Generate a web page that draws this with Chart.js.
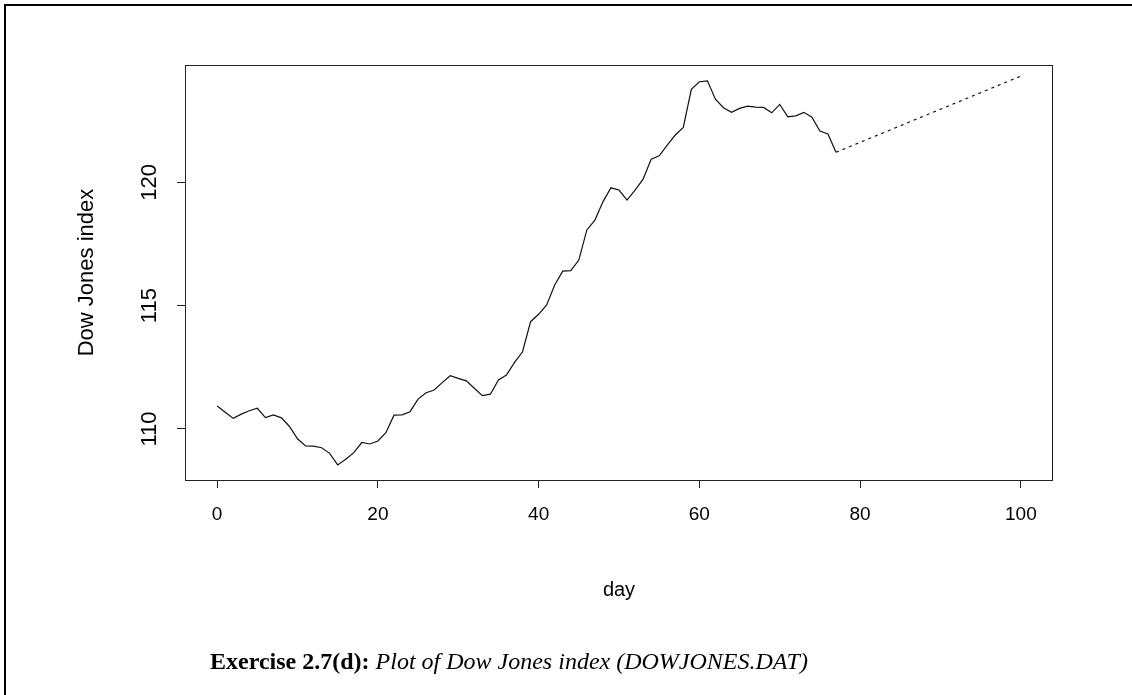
<!DOCTYPE html>
<html>
<head>
<meta charset="utf-8">
<script src="https://cdn.jsdelivr.net/npm/chart.js@4/dist/chart.umd.min.js"></script>
<style>
  body { margin: 0; background: #fff; }
  #wrap { position: relative; width: 1132px; height: 695px; overflow: hidden; }
  #frame { position: absolute; left: 4px; top: 4px; width: 1200px; height: 800px;
           border-top: 2px solid #000; border-left: 2px solid #000; }
  canvas { position: absolute; left: 0; top: 0; }
  #caption { position: absolute; left: 0; width: 1018px; top: 648px; text-align: center;
             font-family: "Liberation Serif", "DejaVu Serif", serif; font-size: 24px; color: #000; }
  #caption i { font-style: italic; }
</style>
</head>
<body>
<div id="wrap">
  <div id="frame"></div>
  <canvas id="dowChart" width="1132" height="695"></canvas>
  <div id="caption"><b>Exercise 2.7(d):</b> <i>Plot of Dow Jones index (DOWJONES.DAT)</i></div>
</div>
<script>
// daily index values, day 0 .. 77
let dowValues = [
    110.93, 110.68, 110.43, 110.60, 110.74, 110.84, 110.46, 110.57, 110.45, 110.10,
    109.60, 109.31, 109.30, 109.24, 109.01, 108.54, 108.77, 109.04, 109.45, 109.39,
    109.51, 109.85, 110.56, 110.57, 110.70, 111.21, 111.47, 111.58, 111.88, 112.16,
    112.05, 111.95, 111.65, 111.35, 111.41, 111.99, 112.19, 112.70, 113.13, 114.35,
    114.65, 115.03, 115.84, 116.40, 116.42, 116.85, 118.07, 118.47, 119.21, 119.78,
    119.69, 119.28, 119.69, 120.13, 120.94, 121.08, 121.51, 121.92, 122.23, 123.77,
    124.08, 124.12, 123.37, 123.03, 122.84, 123.00, 123.09, 123.05, 123.04, 122.82,
    123.16, 122.66, 122.70, 122.84, 122.64, 122.08, 121.96, 121.22
]
let days = dowValues.map((v, i) => i)

// dotted extension line
let extDays = [77, 100]
let extValues = [121.22, 124.31]

let xTicks = [0, 20, 40, 60, 80, 100]
let yTicks = [110, 115, 120]

const family = '"Liberation Sans", Arial, sans-serif'

// R style box round the plot region
const boxPlugin = {
    id: 'box',
    afterDraw(chart) {
        const a = chart.chartArea
        const c = chart.ctx
        c.save()
        c.strokeStyle = '#222'
        c.lineWidth = 1
        c.strokeRect(a.left + 0.5, a.top + 0.5, a.right - a.left - 1, a.bottom - a.top)
        c.restore()
    }
}

let ctx = document.getElementById('dowChart').getContext('2d')
let dowChart = new Chart(ctx, {
    type: 'line',
    data: {
        datasets: [{
            data: days.map((d, i) => ({ x: d, y: dowValues[i] })),
            borderColor: '#111',
            borderWidth: 1.2,
            pointRadius: 0,
            tension: 0,
            fill: false
        }, {
            data: extDays.map((d, i) => ({ x: d, y: extValues[i] })),
            borderColor: '#111',
            borderWidth: 1.2,
            borderDash: [3, 4],
            pointRadius: 0,
            tension: 0,
            fill: false
        }]
    },
    options: {
        responsive: false,
        animation: false,
        layout: { padding: { top: 65, right: 79, left: 70, bottom: 89 } },
        plugins: { legend: { display: false }, tooltip: { enabled: false } },
        scales: {
            x: {
                type: 'linear',
                min: -4,
                max: 104,
                afterBuildTicks: s => { s.ticks = xTicks.map(v => ({ value: v })) },
                afterFit: s => { s.height = 126 },
                border: { display: false },
                grid: { drawOnChartArea: false, tickLength: 8, color: '#222' },
                ticks: { autoSkip: false, maxRotation: 0, padding: 15, color: '#000', font: { family: family, size: 19 } },
                title: { display: true, text: 'day', color: '#000', font: { family: family, size: 20 } }
            },
            y: {
                min: 107.93,
                max: 124.76,
                afterBuildTicks: s => { s.ticks = yTicks.map(v => ({ value: v })) },
                afterFit: s => { s.width = 115 },
                border: { display: false },
                grid: { drawOnChartArea: false, tickLength: 8, color: '#222' },
                ticks: { minRotation: 90, maxRotation: 90, crossAlign: 'center', padding: 9, color: '#000', font: { family: family, size: 22 } },
                title: { display: true, text: 'Dow Jones index', color: '#000', font: { family: family, size: 22 } }
            }
        }
    },
    plugins: [boxPlugin]
})
</script>
</body>
</html>
